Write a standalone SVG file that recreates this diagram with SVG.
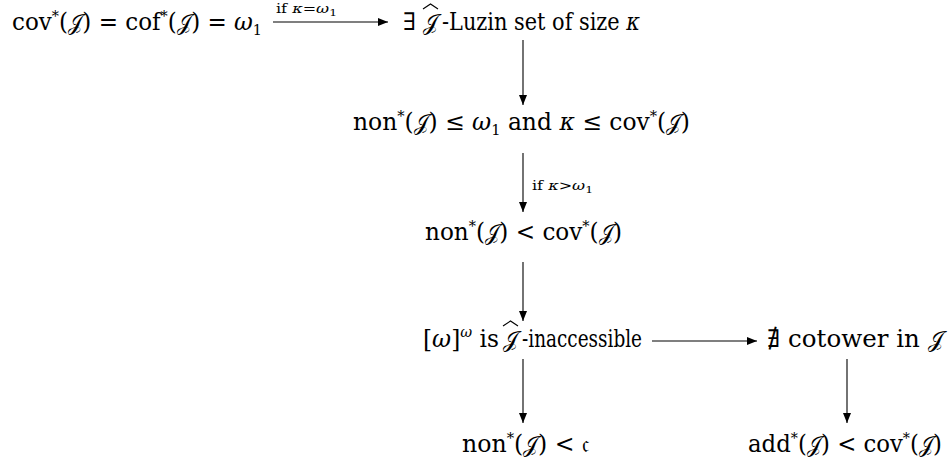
<svg xmlns="http://www.w3.org/2000/svg" width="948" height="463" viewBox="0 0 948 463">
<defs>
<marker id="ah" markerUnits="userSpaceOnUse" markerWidth="10" markerHeight="8" refX="10" refY="4" orient="auto">
<path d="M0,0 L10,4 L0,8 z" fill="#000"/>
</marker>
<style>
.t{font-family:"DejaVu Serif","Liberation Serif","DejaVu Sans",serif;font-size:24px;fill:#000}
.l{font-family:"DejaVu Serif","Liberation Serif","DejaVu Sans",serif;font-size:13px;fill:#000}
.i{font-style:italic}
.s{font-size:15px}
.j{font-size:22px}
.e{stroke:#000;stroke-width:1.1;fill:none;marker-end:url(#ah)}
.hat{stroke:#000;stroke-width:1.1;fill:none}
</style>
</defs>
<rect width="948" height="463" fill="#fff"/>
<g id="edges">
<line class="e" x1="273" y1="22" x2="388" y2="22"/>
<text class="l" x="276" y="13" textLength="61" lengthAdjust="spacingAndGlyphs">if <tspan class="i">κ</tspan>=<tspan class="i">ω</tspan><tspan font-size="10" dy="3">1</tspan></text>
<line class="e" x1="523" y1="40" x2="523" y2="105"/>
<line class="e" x1="523" y1="153" x2="523" y2="212"/>
<text class="l" x="532" y="190" textLength="61" lengthAdjust="spacingAndGlyphs">if <tspan class="i">κ</tspan>&gt;<tspan class="i">ω</tspan><tspan font-size="10" dy="3">1</tspan></text>
<line class="e" x1="523" y1="262" x2="523" y2="321"/>
<line class="e" x1="652" y1="341" x2="757" y2="341"/>
<line class="e" x1="523" y1="359" x2="523" y2="423"/>
<line class="e" x1="847" y1="359" x2="847" y2="423"/>
</g>
<g id="n1"><text class="t" x="12" y="30" textLength="250" lengthAdjust="spacingAndGlyphs">cov<tspan class="s" dy="-9">*</tspan><tspan dy="9">(</tspan><tspan class="j">𝒥</tspan>) = cof<tspan class="s" dy="-9">*</tspan><tspan dy="9">(</tspan><tspan class="j">𝒥</tspan>) = <tspan class="i">ω</tspan><tspan class="s" dy="5">1</tspan></text></g>
<g id="n2">
<text class="t" x="403" y="30">∃</text>
<text class="t j" x="423" y="30">𝒥</text>
<polyline class="hat" points="423,9 430.5,4 438,9"/>
<text class="t" x="442" y="30" textLength="198" lengthAdjust="spacingAndGlyphs">-Luzin set of size <tspan class="i">κ</tspan></text>
</g>
<g id="n3"><text class="t" x="353" y="130" textLength="337" lengthAdjust="spacingAndGlyphs">non<tspan class="s" dy="-9">*</tspan><tspan dy="9">(</tspan><tspan class="j">𝒥</tspan>) ≤ <tspan class="i">ω</tspan><tspan class="s" dy="5">1</tspan><tspan dy="-5"> and </tspan><tspan class="i">κ</tspan> ≤ cov<tspan class="s" dy="-9">*</tspan><tspan dy="9">(</tspan><tspan class="j">𝒥</tspan>)</text></g>
<g id="n4"><text class="t" x="425" y="240" textLength="197" lengthAdjust="spacingAndGlyphs">non<tspan class="s" dy="-9">*</tspan><tspan dy="9">(</tspan><tspan class="j">𝒥</tspan>) &lt; cov<tspan class="s" dy="-9">*</tspan><tspan dy="9">(</tspan><tspan class="j">𝒥</tspan>)</text></g>
<g id="n5">
<text class="t" x="423" y="347" textLength="76" lengthAdjust="spacingAndGlyphs">[<tspan class="i">ω</tspan>]<tspan class="s i" dy="-10">ω</tspan><tspan dy="10"> is</tspan></text>
<text class="t j" x="503" y="347">𝒥</text>
<polyline class="hat" points="503,326 510.5,321 518,326"/>
<text class="t" x="522" y="347" textLength="120" lengthAdjust="spacingAndGlyphs">-inaccessible</text>
</g>
<g id="n6"><text class="t" x="767" y="347" textLength="176" lengthAdjust="spacingAndGlyphs">∄ cotower in <tspan class="j">𝒥</tspan></text></g>
<g id="n7"><text class="t" x="462" y="452" textLength="128" lengthAdjust="spacingAndGlyphs">non<tspan class="s" dy="-9">*</tspan><tspan dy="9">(</tspan><tspan class="j">𝒥</tspan>) &lt; 𝔠</text></g>
<g id="n8"><text class="t" x="748" y="452" textLength="194" lengthAdjust="spacingAndGlyphs">add<tspan class="s" dy="-9">*</tspan><tspan dy="9">(</tspan><tspan class="j">𝒥</tspan>) &lt; cov<tspan class="s" dy="-9">*</tspan><tspan dy="9">(</tspan><tspan class="j">𝒥</tspan>)</text></g>
</svg>
